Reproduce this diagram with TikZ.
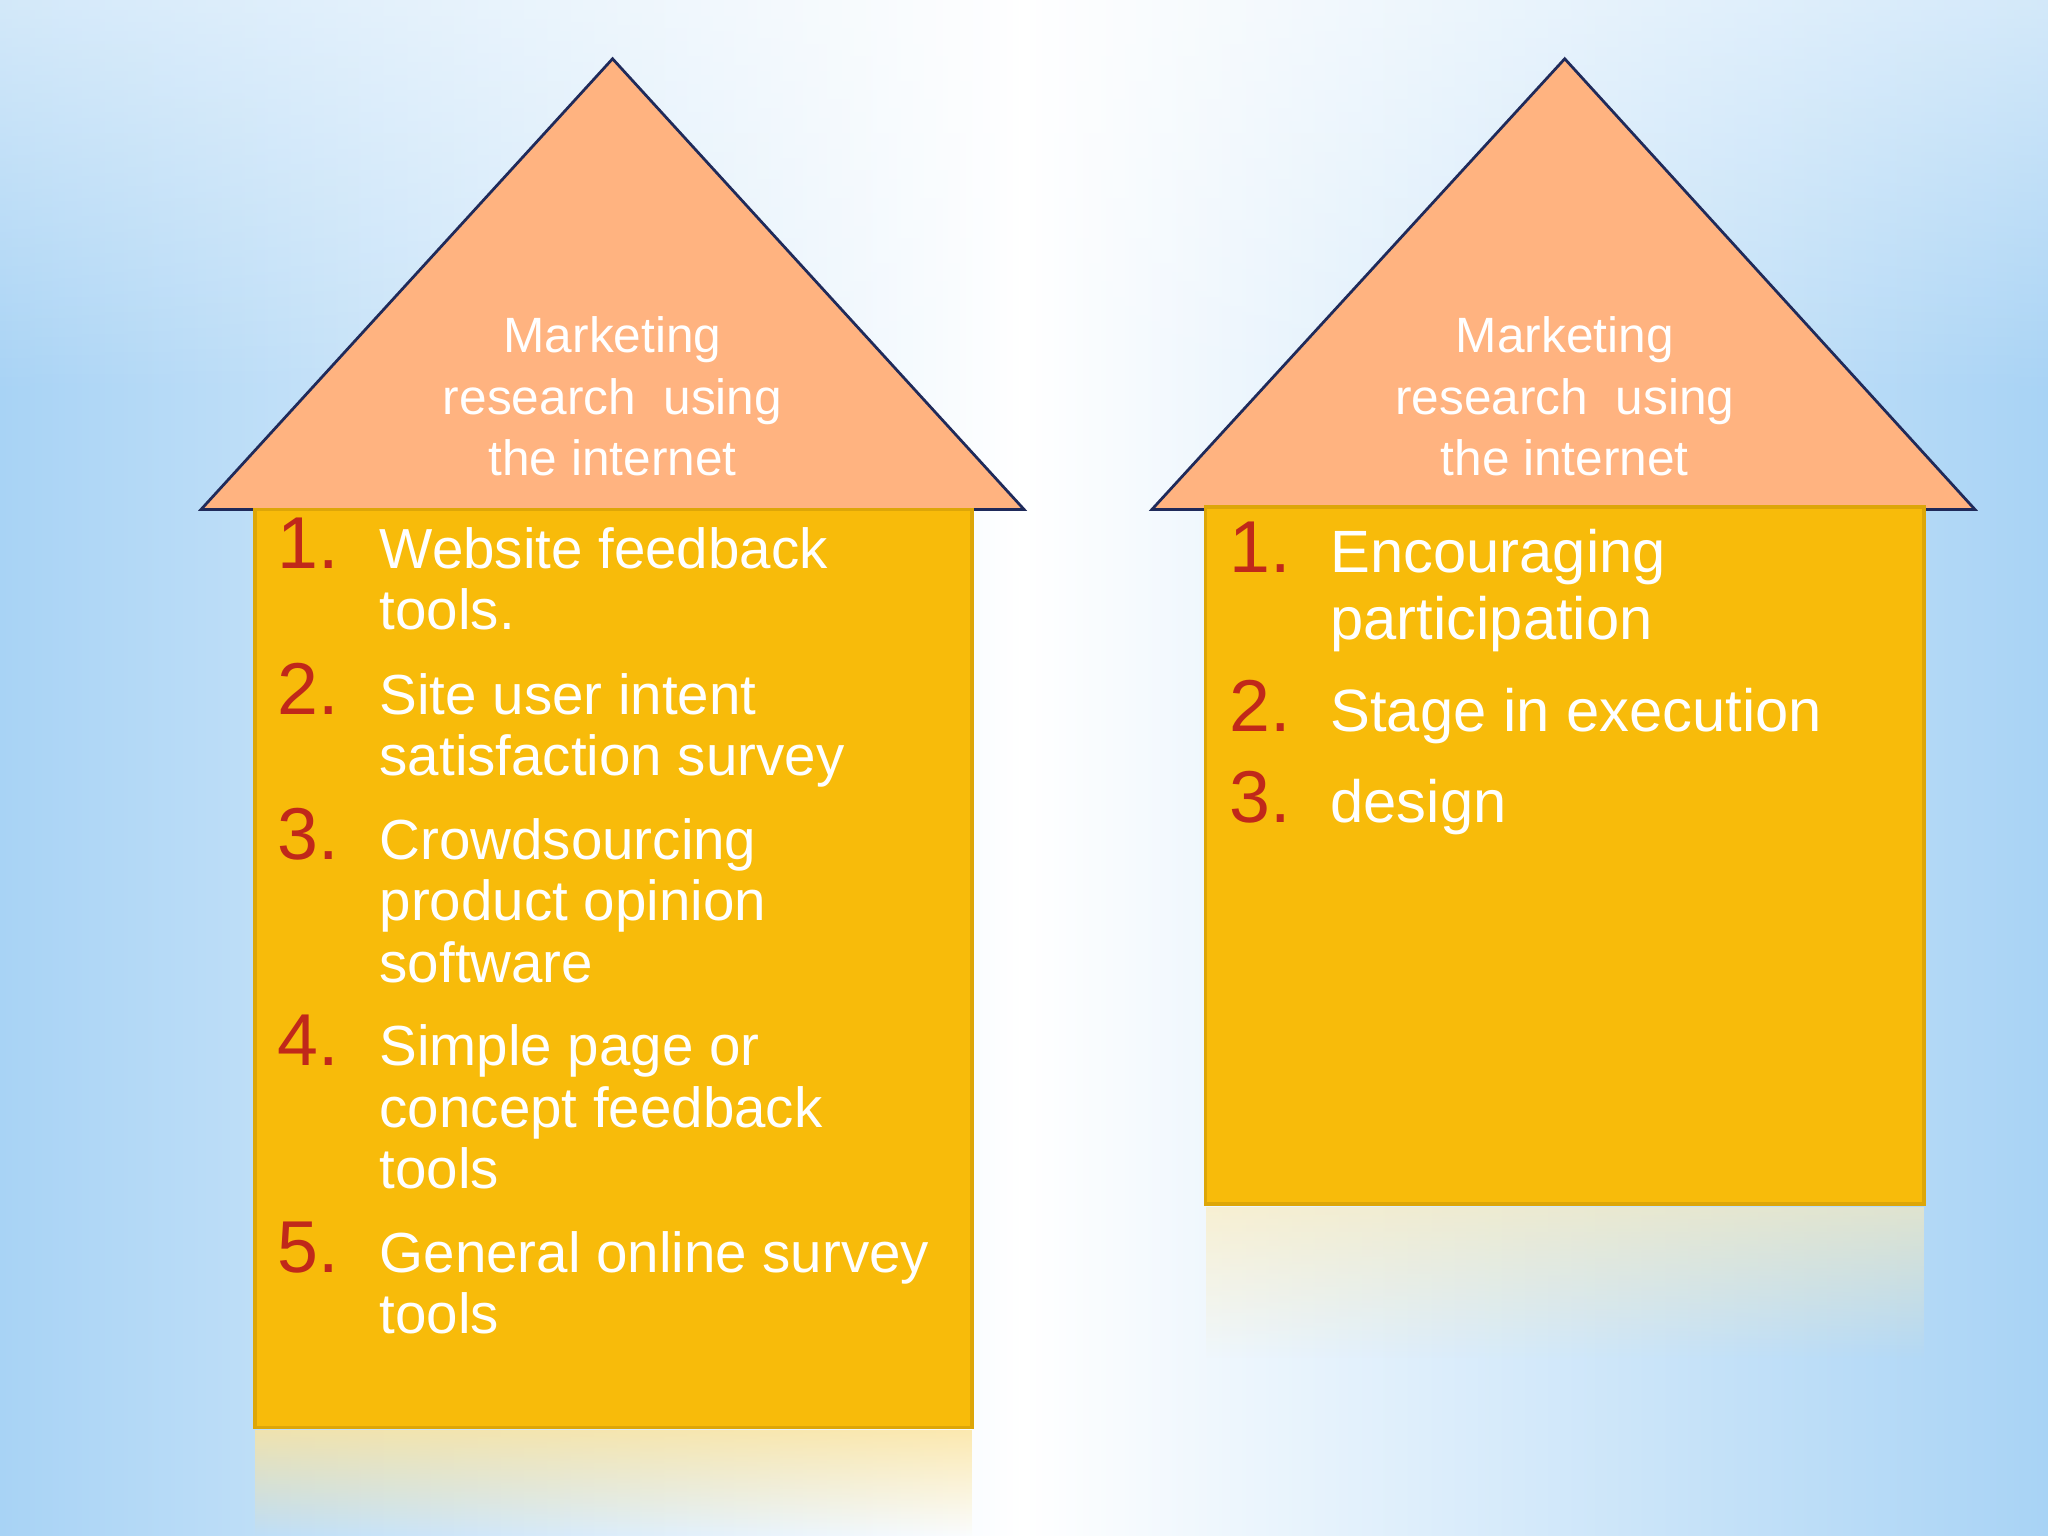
\documentclass[tikz,border=0pt]{standalone}
\usepackage{fontspec}
\setmainfont{Liberation Sans}
\usetikzlibrary{fadings}
\definecolor{bgblue}{HTML}{A8D3F5}
\definecolor{roof}{HTML}{FFB380}
\definecolor{body}{HTML}{F8BB0A}
\definecolor{bodyedge}{HTML}{DDA608}
\definecolor{numred}{HTML}{C0281A}
\definecolor{roofedge}{HTML}{1F2A5A}
\tikzset{
 roofst/.style={fill=roof,draw=roofedge,line width=0.6pt},
 bodyst/.style={fill=body,draw=bodyedge,line width=0.8pt},
 ttl/.style={text=white,font=\fontsize{10.8pt}{12pt}\selectfont,anchor=base,inner sep=0},
 num/.style={text=numred,font=\fontsize{16pt}{18pt}\selectfont,anchor=base west,inner sep=0},
 itm/.style={text=white,font=\fontsize{12.3pt}{14pt}\selectfont,anchor=base west,inner sep=0},
 itmb/.style={text=white,font=\fontsize{13pt}{15pt}\selectfont,anchor=base west,inner sep=0},
}
\begin{document}
\begin{tikzpicture}[x=0.01cm,y=-0.01cm]
\useasboundingbox (0,0) rectangle (1568,1176);
\shade[left color=bgblue,right color=bgblue,middle color=white] (0,0) rectangle (1568,1176);
\fill[white,path fading=south,opacity=0.5] (0,0) rectangle (1568,300);
% reflections
\fill[body!40!white,path fading=south,opacity=0.8] (195,1095) rectangle (744,1176);
\fill[body!30!white,path fading=south,opacity=0.6] (923,924) rectangle (1473,1040);
% left house
\draw[roofst] (154,390) -- (469,45) -- (784,390) -- cycle;
\draw[bodyst] (195,390) rectangle (744,1093);
\node[ttl] (lt1) at (469,270) {Marketing};
\node[ttl] (lt2) at (469,317) {research\ \ using};
\node[ttl] (lt3) at (469,364) {the internet};
\node[num] (ln1) at (212,435) {1.};
\node[itm] (l1a) at (290,435) {Website feedback};
\node[itm] (l1b) at (290,482) {tools.};
\node[num] (ln2) at (212,547) {2.};
\node[itm] (l2a) at (290,547) {Site user intent};
\node[itm] (l2b) at (290,594) {satisfaction survey};
\node[num] (ln3) at (212,658) {3.};
\node[itm] (l3a) at (290,658) {Crowdsourcing};
\node[itm] (l3b) at (290,705) {product opinion};
\node[itm] (l3c) at (290,752) {software};
\node[num] (ln4) at (212,816) {4.};
\node[itm] (l4a) at (290,816) {Simple page or};
\node[itm] (l4b) at (290,863) {concept feedback};
\node[itm] (l4c) at (290,910) {tools};
\node[num] (ln5) at (212,974) {5.};
\node[itm] (l5a) at (290,974) {General online survey};
\node[itm] (l5b) at (290,1021) {tools};
% right house
\draw[roofst] (882,390) -- (1198,45) -- (1512,390) -- cycle;
\draw[bodyst] (923,388) rectangle (1473,922);
\node[ttl] (rt1) at (1198,270) {Marketing};
\node[ttl] (rt2) at (1198,317) {research\ \ using};
\node[ttl] (rt3) at (1198,364) {the internet};
\node[num] (rn1) at (941,438) {1.};
\node[itmb] (r1a) at (1018,438) {Encouraging};
\node[itmb] (r1b) at (1018,490) {participation};
\node[num] (rn2) at (941,560) {2.};
\node[itmb] (r2a) at (1018,560) {Stage in execution};
\node[num] (rn3) at (941,630) {3.};
\node[itmb] (r3a) at (1018,630) {design};
\end{tikzpicture}
\end{document}
